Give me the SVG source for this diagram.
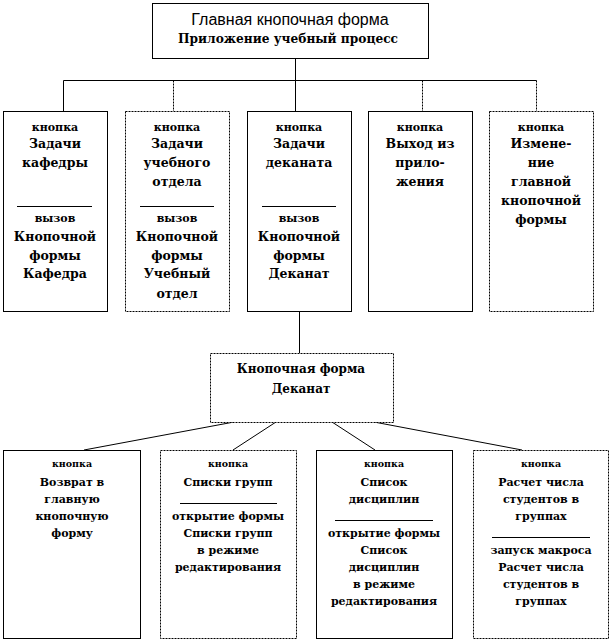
<svg xmlns="http://www.w3.org/2000/svg" width="611" height="642" viewBox="0 0 611 642">
<style>
.box{fill:#fff;stroke:#000;stroke-width:1}
.dot{stroke-dasharray:2 1}
.ln{stroke:#000;stroke-width:1;fill:none}
text{font-family:'DejaVu Serif',serif;font-weight:bold;text-anchor:middle;fill:#000}
.s{font-size:11px}
.m{font-size:12.5px}
.bs{font-size:9.5px}
.bm{font-size:11px}
.title{font-family:'Liberation Sans',Arial,sans-serif;font-weight:normal;font-size:16px}
</style>
<rect width="611" height="642" fill="#fff"/>
<g id="connectors">
<path class="ln" d="M295.5 58V80.5M63.5 80.5H536.5M63.5 80.5V111M295.5 80.5V111"/>
<path class="ln dot" d="M173.5 80.5V111M422.5 80.5V111M536.5 80.5V111"/>
<path class="ln" d="M299.5 312V353"/>
<path class="ln" d="M234 422L84 450M276 422L233 450M332 422L375 450M374 422L522 450"/>
</g>
<g id="main">
<rect class="box" x="152.5" y="3.5" width="276" height="55"/>
<text class="title" x="290" y="25">Главная кнопочная форма</text>
<text class="m" x="288" y="43" style="font-size:12.2px">Приложение учебный процесс</text>
</g>
<g id="btn-kafedra">
<rect class="box" x="3.5" y="111.5" width="104" height="200"/>
<text class="s" x="55" y="131">кнопка</text>
<text class="m" x="55" y="148">Задачи</text>
<text class="m" x="55" y="167">кафедры</text>
<path class="ln" d="M17 206.5H92"/>
<text class="s" x="55" y="222">вызов</text>
<text class="m" x="55" y="241">Кнопочной</text>
<text class="m" x="55" y="260">формы</text>
<text class="m" x="55" y="278">Кафедра</text>
</g>
<g id="btn-uchebny">
<rect class="box dot" x="125.5" y="111.5" width="104" height="200"/>
<text class="s" x="177" y="131">кнопка</text>
<text class="m" x="177" y="148">Задачи</text>
<text class="m" x="177" y="167">учебного</text>
<text class="m" x="177" y="186">отдела</text>
<path class="ln" d="M140 206.5H214"/>
<text class="s" x="177" y="222">вызов</text>
<text class="m" x="177" y="241">Кнопочной</text>
<text class="m" x="177" y="260">формы</text>
<text class="m" x="177" y="278">Учебный</text>
<text class="m" x="177" y="298">отдел</text>
</g>
<g id="btn-dekanat">
<rect class="box" x="247.5" y="111.5" width="104" height="200"/>
<text class="s" x="299" y="131">кнопка</text>
<text class="m" x="299" y="148">Задачи</text>
<text class="m" x="299" y="167">деканата</text>
<path class="ln" d="M262 206.5H336"/>
<text class="s" x="299" y="222">вызов</text>
<text class="m" x="299" y="241">Кнопочной</text>
<text class="m" x="299" y="260">формы</text>
<text class="m" x="299" y="278">Деканат</text>
</g>
<g id="btn-exit">
<rect class="box" x="368.5" y="111.5" width="104" height="200"/>
<text class="s" x="420" y="131">кнопка</text>
<text class="m" x="420" y="148">Выход из</text>
<text class="m" x="420" y="167">прило-</text>
<text class="m" x="420" y="186">жения</text>
</g>
<g id="btn-change">
<rect class="box dot" x="489.5" y="111.5" width="104" height="200"/>
<text class="s" x="541" y="131">кнопка</text>
<text class="m" x="541" y="148">Измене-</text>
<text class="m" x="541" y="167">ние</text>
<text class="m" x="541" y="186">главной</text>
<text class="m" x="541" y="205">кнопочной</text>
<text class="m" x="541" y="224">формы</text>
</g>
<g id="form-dekanat">
<rect class="box dot" x="210.5" y="353.5" width="183" height="69"/>
<text class="m" x="301" y="373" style="font-size:12px">Кнопочная форма</text>
<text class="m" x="301" y="393" style="font-size:12px">Деканат</text>
</g>
<g id="btn-back">
<rect class="box" x="3.5" y="450.5" width="137" height="188"/>
<text class="bs" x="72" y="467">кнопка</text>
<text class="bm" x="72" y="486">Возврат в</text>
<text class="bm" x="72" y="503">главную</text>
<text class="bm" x="72" y="520">кнопочную</text>
<text class="bm" x="72" y="537">форму</text>
</g>
<g id="btn-groups">
<rect class="box dot" x="160.5" y="450.5" width="136" height="188"/>
<text class="bs" x="228" y="467">кнопка</text>
<text class="bm" x="228" y="486">Списки групп</text>
<path class="ln" d="M180 503.5H277"/>
<text class="bm" x="228" y="520">открытие формы</text>
<text class="bm" x="228" y="537">Списки групп</text>
<text class="bm" x="228" y="554">в режиме</text>
<text class="bm" x="228" y="571">редактирования</text>
</g>
<g id="btn-disc">
<rect class="box" x="316.5" y="450.5" width="136" height="188"/>
<text class="bs" x="384" y="467">кнопка</text>
<text class="bm" x="384" y="486">Список</text>
<text class="bm" x="384" y="503">дисциплин</text>
<path class="ln" d="M335 520.5H433"/>
<text class="bm" x="384" y="537">открытие формы</text>
<text class="bm" x="384" y="554">Список</text>
<text class="bm" x="384" y="571">дисциплин</text>
<text class="bm" x="384" y="588">в режиме</text>
<text class="bm" x="384" y="605">редактирования</text>
</g>
<g id="btn-calc">
<rect class="box dot" x="473.5" y="450.5" width="135" height="188"/>
<text class="bs" x="541" y="467">кнопка</text>
<text class="bm" x="541" y="486">Расчет числа</text>
<text class="bm" x="541" y="503">студентов в</text>
<text class="bm" x="541" y="520">группах</text>
<path class="ln" d="M492 537.5H590"/>
<text class="bm" x="541" y="554">запуск макроса</text>
<text class="bm" x="541" y="571">Расчет числа</text>
<text class="bm" x="541" y="588">студентов в</text>
<text class="bm" x="541" y="605">группах</text>
</g>
</svg>
